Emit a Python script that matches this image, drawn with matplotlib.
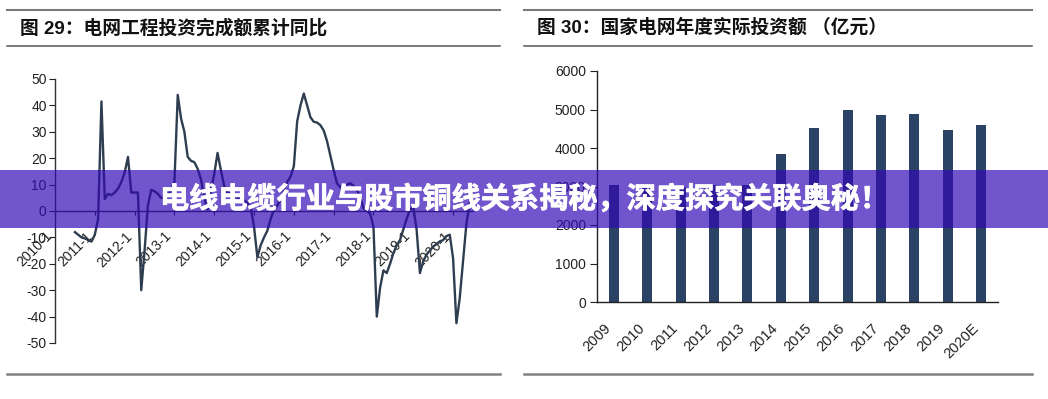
import matplotlib.pyplot as plt
import matplotlib.patheffects as pe
import numpy as np
from matplotlib.patches import Rectangle
from matplotlib.lines import Line2D

plt.rcParams['font.family'] = ['Liberation Sans', 'Noto Sans CJK SC', 'DejaVu Sans']
plt.rcParams['axes.unicode_minus'] = False

# 图29: 电网工程投资完成额累计同比 (%), monthly, first point is 2010-7
first_month = 6  # months after 2010-1
grid_yoy = [
    -8, -9, -10, -10.4, -11, -11.6,                                  # 2010-7 .. 2010-12
    -9, -3, 41.5, 4.5, 6.5, 6, 7, 8.5, 11, 14.5, 20.5, 7,            # 2011
    7, 7, -30, -15, 2, 8, 7.5, 6.5, 5, 5, 6, 8,                      # 2012
    11, 44, 35, 30, 20.5, 19, 18.5, 16, 12, 5, 0.5, 8,               # 2013
    14, 22, 15.5, 9.5, 7, 6.5, 6, 5, 5, 4, 3, 1.5,                   # 2014
    -6, -17.5, -13, -10, -7.5, -3, 0.5, 2, 4.5, 8, 11, 13,           # 2015
    17, 34, 40, 44.5, 40, 35.5, 33.8, 33.5, 32.5, 30.5, 26.5, 21,    # 2016
    15.5, 10.5, 9, 9.5, 10, 10.5, 9.5, 8, 5, 1, 0, -1,               # 2017
    -6, -40, -29, -22.5, -23.5, -20, -16, -13, -11, -7, -3, 0.5,     # 2018
    1.5, -7, -23.5, -19, -16.5, -15, -13.5, -12.5, -11.5, -11, -9.5, -9,  # 2019
    -18, -42.5, -33, -19, -5, 3,                                     # 2020
]
year_labels = [f"{y}-1" for y in range(2010, 2021)]

# 图30: 国家电网年度实际投资额 (亿元)
years = ['2009', '2010', '2011', '2012', '2013', '2014', '2015', '2016',
         '2017', '2018', '2019', '2020E']
invest = [3040, 3020, 3000, 3050, 3050, 3855, 4521, 4977, 4854, 4889, 4473, 4600]

W, H = 1048, 399
fig = plt.figure(figsize=(W / 100, H / 100), dpi=100)
fig.patch.set_facecolor('white')


def box(x0, y0, x1, y1):
    return [x0 / W, 1 - y1 / H, (x1 - x0) / W, (y1 - y0) / H]


def hline(x0, x1, y, lw, color='#7a7a7a'):
    fig.add_artist(Line2D([x0 / W, x1 / W], [1 - y / H, 1 - y / H],
                          transform=fig.transFigure, color=color, lw=lw))


line_color = '#2e3e50'
bar_color = '#2a4264'
text_color = '#222222'

# left chart
ax1 = fig.add_axes(box(55, 79, 473, 343))
months = np.arange(first_month, first_month + len(grid_yoy))
ax1.plot(months, grid_yoy, color=line_color, lw=1.7, solid_joinstyle='round')
ax1.set_xlim(0, 126)
ax1.set_ylim(-50, 50)
ax1.spines['top'].set_visible(False)
ax1.spines['right'].set_visible(False)
ax1.spines['bottom'].set_position(('data', 0))
for s in ('left', 'bottom'):
    ax1.spines[s].set_color('#333333')
    ax1.spines[s].set_linewidth(1.0)
ax1.set_yticks(np.arange(-50, 51, 10))
ax1.set_yticklabels([str(v) for v in range(-50, 51, 10)])
ax1.set_xticks(np.arange(0, 121, 12))
ax1.set_xticklabels(year_labels, rotation=45, ha='right')
ax1.tick_params(axis='y', length=4, pad=2, labelsize=10, colors=text_color)
ax1.tick_params(axis='x', length=3, pad=10, labelsize=10, colors=text_color)

# right chart
ax2 = fig.add_axes(box(597, 71, 998, 302))
ax2.bar(np.arange(len(years)), invest, width=0.3, color=bar_color)
ax2.set_xlim(-0.5, 11.5)
ax2.set_ylim(0, 6000)
ax2.spines['top'].set_visible(False)
ax2.spines['right'].set_visible(False)
for s in ('left', 'bottom'):
    ax2.spines[s].set_color('#222222')
    ax2.spines[s].set_linewidth(1.0)
ax2.set_yticks(np.arange(0, 6001, 1000))
ax2.set_xticks(np.arange(len(years)))
ax2.set_xticklabels(years, rotation=45, ha='right')
ax2.tick_params(axis='y', length=5, pad=3, labelsize=10, colors=text_color)
ax2.tick_params(axis='x', length=0, pad=14, labelsize=10.5, colors=text_color)

# titles and rules
fig.text(20 / W, 1 - 28 / H, "图 29：电网工程投资完成额累计同比", fontsize=13.5,
         fontweight='bold', va='center', color='#111111')
fig.text(537 / W, 1 - 28 / H, "图 30：国家电网年度实际投资额 （亿元）", fontsize=13.5,
         fontweight='bold', va='center', color='#111111')
hline(7, 500, 10, 1.5)
hline(7, 500, 46, 1.1, '#555555')
hline(7, 500, 374, 1.8, '#808080')
hline(524, 1032, 10, 1.5)
hline(524, 1032, 46, 1.1, '#555555')
hline(524, 1032, 374, 1.8, '#808080')

# banner overlay
fig.add_artist(Rectangle((0, 1 - 228 / H), 1, 58 / H, transform=fig.transFigure,
                         facecolor=(48 / 255, 9 / 255, 181 / 255), alpha=0.69,
                         edgecolor='none', zorder=10))
fig.text(524 / W, 1 - 199 / H, "电线电缆行业与股市铜线关系揭秘，深度探究关联奥秘！",
         color='white', fontsize=21, fontweight='black', ha='center', va='center',
         family=['Noto Sans CJK SC'], zorder=11,
         path_effects=[pe.withStroke(linewidth=0.5, foreground='white')])

fig.savefig('out.png', dpi=100, facecolor='white')
